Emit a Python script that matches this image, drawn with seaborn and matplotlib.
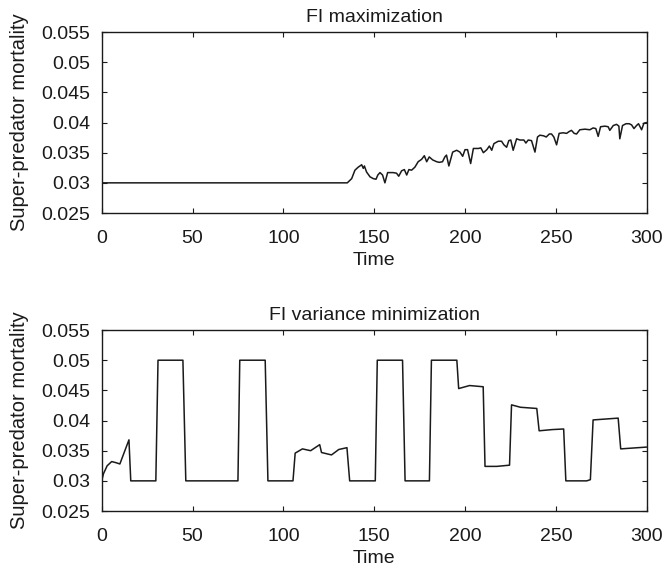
import matplotlib
matplotlib.use("Agg")
import matplotlib.pyplot as plt
import seaborn as sns
import pandas as pd

# ---- data ----
time_max = [0, 135.2, 137.6, 139.4, 141.2, 143.1, 144, 144.6, 145.8, 147.7, 149.5, 151, 152, 153.2,
            154.6, 155.9, 157.4, 160.4, 162.3, 163.5, 165.1, 166.6, 167.9, 169.1, 170.6, 172.4, 174.2,
            176.1, 177.6, 178.9, 180.3, 182.2, 184.4, 185.8, 187.6, 188.9, 189.8, 191.1, 193.2, 195.4,
            197.2, 198.7, 200, 201.4, 203.1, 204.6, 207.4, 208.7, 210.1, 212, 213.4, 214.7, 215.9,
            218.3, 220.1, 221.4, 222.9, 224.1, 225.2, 226.5, 228.4, 230.2, 232.4, 233.5, 234.8, 236.6,
            238.5, 239.9, 241.2, 243.2, 244.7, 246.4, 247.6, 248.9, 250.4, 251.8, 254, 255.9, 257.3,
            258.6, 260.1, 261.4, 263.2, 266, 268.7, 270.5, 272, 273.3, 274.6, 277, 278.8, 279.7, 281.6,
            283.4, 284.7, 285.2, 286.7, 288.6, 290.4, 291.7, 293, 294.4, 295.5, 297.2, 298.5, 300]
mort_max = [0.030, 0.030, 0.0307, 0.0321, 0.0326, 0.0330, 0.0324, 0.0328, 0.0318, 0.0310, 0.0307,
            0.0306, 0.0313, 0.0317, 0.0313, 0.0300, 0.0317, 0.0317, 0.0316, 0.0311, 0.0320, 0.0322,
            0.0313, 0.0322, 0.0321, 0.0326, 0.0335, 0.0339, 0.0345, 0.0335, 0.0343, 0.0338, 0.0335,
            0.0334, 0.0335, 0.0343, 0.0346, 0.0328, 0.0351, 0.0354, 0.0351, 0.0344, 0.0355, 0.0355,
            0.0332, 0.0357, 0.0357, 0.0358, 0.0350, 0.0355, 0.0361, 0.0354, 0.0365, 0.0369, 0.0369,
            0.0363, 0.0359, 0.0370, 0.0371, 0.0354, 0.0373, 0.0371, 0.0371, 0.0366, 0.0371, 0.0370,
            0.0351, 0.0376, 0.0379, 0.0378, 0.0376, 0.0381, 0.0381, 0.0376, 0.0363, 0.0382, 0.0383,
            0.0382, 0.0385, 0.0387, 0.0382, 0.0381, 0.0388, 0.0389, 0.0388, 0.0391, 0.0390, 0.0377,
            0.0393, 0.0394, 0.0393, 0.0387, 0.0395, 0.0397, 0.0394, 0.0373, 0.0395, 0.0398, 0.0398,
            0.0396, 0.0390, 0.0395, 0.0398, 0.0388, 0.0399, 0.0400]

time_var = [0, 1, 3, 5.5, 8, 10, 15, 16, 29.8, 31, 44.7, 46.3, 75, 76, 90, 91.5, 105.3, 106.5, 110.5,
            115, 120, 121, 126.5, 130.5, 135, 136.5, 150.6, 151.7, 165.6, 167, 180.4, 181.5, 195.5,
            196.5, 202.5, 210, 211, 217.5, 224.5, 225.6, 230.5, 239.5, 240.8, 248, 254.3, 255.5, 267,
            269, 270.5, 284.3, 285.7, 300]
mort_var = [0.0300, 0.0312, 0.0325, 0.0332, 0.0330, 0.0328, 0.0368, 0.0300, 0.0300, 0.0500, 0.0500,
            0.0300, 0.0300, 0.0500, 0.0500, 0.0300, 0.0300, 0.0346, 0.0353, 0.0350, 0.0360, 0.0347,
            0.0343, 0.0352, 0.0355, 0.0300, 0.0300, 0.0500, 0.0500, 0.0300, 0.0300, 0.0500, 0.0500,
            0.0453, 0.0458, 0.0456, 0.0324, 0.0324, 0.0326, 0.0426, 0.0422, 0.0420, 0.0383, 0.0385,
            0.0386, 0.0300, 0.0300, 0.0302, 0.0401, 0.0404, 0.0353, 0.0356]

titles = ["FI maximization", "FI variance minimization"]
x_ticks = [0, 50, 100, 150, 200, 250, 300]
y_ticks = [0.025, 0.03, 0.035, 0.04, 0.045, 0.05, 0.055]
y_tick_labels = ["0.025", "0.03", "0.035", "0.04", "0.045", "0.05", "0.055"]
x_label = "Time"
y_label = "Super-predator mortality"

# ---- styling ----
sns.set_style("white")
plt.rcParams["font.family"] = ["Liberation Sans", "DejaVu Sans"]

FS = 14
INK = "#1a1a1a"

fig = plt.figure(figsize=(6.66, 5.72), dpi=100)
ax_top = fig.add_axes([0.1527, 0.6276, 0.8183, 0.3164])
ax_bot = fig.add_axes([0.1527, 0.1066, 0.8183, 0.3164])

series = [(time_max, mort_max), (time_var, mort_var)]
for ax, (tt, vv), title in zip([ax_top, ax_bot], series, titles):
    df = pd.DataFrame({"Time": tt, "Mortality": vv})
    sns.lineplot(data=df, x="Time", y="Mortality", ax=ax, color=INK,
                 linewidth=1.1, estimator=None, sort=False)
    ax.set_xlim(0, 300)
    ax.set_ylim(0.025, 0.055)
    ax.set_xticks(x_ticks)
    ax.set_xticklabels([str(t) for t in x_ticks])
    ax.set_yticks(y_ticks)
    ax.set_yticklabels(y_tick_labels)
    ax.tick_params(direction="in", length=3.5, width=0.8, top=True, right=True,
                   bottom=True, left=True, labelsize=FS, colors=INK)
    ax.tick_params(axis="x", pad=12)
    ax.tick_params(axis="y", pad=8)
    for sp in ax.spines.values():
        sp.set_visible(True)
        sp.set_color(INK)
        sp.set_linewidth(1.0)
    ax.set_title(title, fontsize=FS, color=INK, pad=7)
    ax.set_xlabel(x_label, fontsize=FS, color=INK, labelpad=3.5)
    ax.set_ylabel(y_label, fontsize=14.5, color=INK, labelpad=9)

fig.savefig("out.png", dpi=100)
